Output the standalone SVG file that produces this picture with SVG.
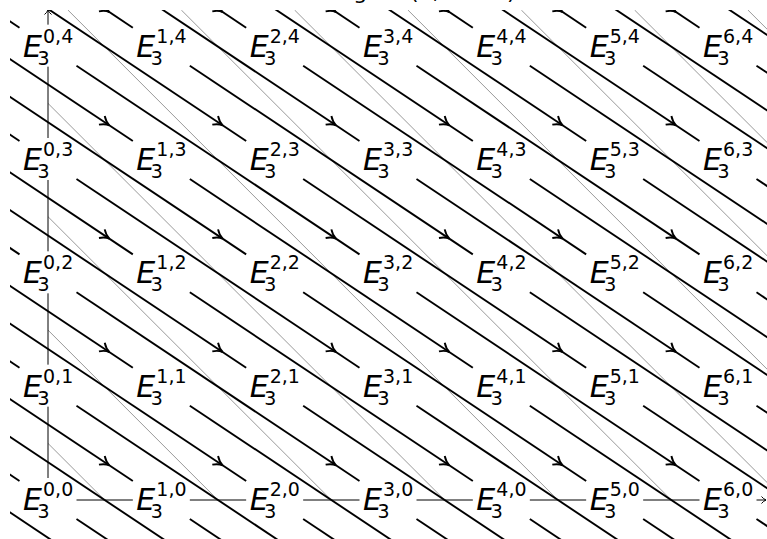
<svg xmlns="http://www.w3.org/2000/svg" width="767" height="539" viewBox="0 0 767 539">
<style>
text{font-family:"DejaVu Sans","Noto Sans",sans-serif;fill:#000}
.E{font-size:30px;font-style:italic}
.s{font-size:19px}
.title{font-size:22px}
.arrow path{stroke:#000;stroke-width:1.9;fill:none}
.grid line{stroke:#999;stroke-width:1}
.axis{stroke:#000;stroke-width:1;fill:none}
</style>
<defs>
<clipPath id="clipAll"><rect x="10" y="10" width="800" height="600"/></clipPath>
<clipPath id="clipQ"><rect x="48" y="10" width="760" height="490"/></clipPath>
<g id="d3" class="arrow">
<path d="M28.5 19L311.5 207.67"/>
<path d="M-9 -5.2C-5.5 -1.8 -2.6 -0.5 0 0C-2.6 0.5 -5.5 1.8 -9 5.2" transform="translate(288 192) rotate(33.69)"/>
</g>
</defs>
<text class="title" x="137" y="-1.5">Differentials of bidegree (3, 1 − 3)</text>
<g id="gridlines" class="grid" clip-path="url(#clipQ)">
<line x1="-385.4" y1="10" x2="104.6" y2="500"/>
<line x1="-272.1" y1="10" x2="217.9" y2="500"/>
<line x1="-158.7" y1="10" x2="331.3" y2="500"/>
<line x1="-45.4" y1="10" x2="444.6" y2="500"/>
<line x1="67.9" y1="10" x2="557.9" y2="500"/>
<line x1="181.3" y1="10" x2="671.3" y2="500"/>
<line x1="294.6" y1="10" x2="784.6" y2="500"/>
<line x1="407.9" y1="10" x2="897.9" y2="500"/>
<line x1="521.3" y1="10" x2="1011.3" y2="500"/>
<line x1="634.6" y1="10" x2="1124.6" y2="500"/>
<line x1="747.9" y1="10" x2="1237.9" y2="500"/>
</g>
<g id="axes" class="axis">
<path d="M48 478V406.67M48 364.67V293.33M48 251.33V180M48 138V66.67M48 24.67V10"/>
<path d="M44.5 14.5Q47 12.5 48 10Q49 12.5 51.5 14.5"/>
<path d="M76.5 500H132.83M189.83 500H246.17M303.17 500H359.5M416.5 500H472.83M529.83 500H586.17M643.17 500H699.5M756.5 500H766"/>
<path d="M761.5 496.5Q763.5 499 766 500Q763.5 501 761.5 503.5"/>
</g>
<g id="connectors" clip-path="url(#clipAll)">
<use href="#d3" x="-292" y="273.33"/><use href="#d3" x="-292" y="160"/><use href="#d3" x="-292" y="46.67"/><use href="#d3" x="-292" y="-66.67"/><use href="#d3" x="-292" y="-180"/>
<use href="#d3" x="-178.67" y="500"/><use href="#d3" x="-178.67" y="386.67"/><use href="#d3" x="-178.67" y="273.33"/><use href="#d3" x="-178.67" y="160"/><use href="#d3" x="-178.67" y="46.67"/><use href="#d3" x="-178.67" y="-66.67"/><use href="#d3" x="-178.67" y="-180"/>
<use href="#d3" x="-65.33" y="500"/><use href="#d3" x="-65.33" y="386.67"/><use href="#d3" x="-65.33" y="273.33"/><use href="#d3" x="-65.33" y="160"/><use href="#d3" x="-65.33" y="46.67"/><use href="#d3" x="-65.33" y="-66.67"/><use href="#d3" x="-65.33" y="-180"/>
<use href="#d3" x="48" y="500"/><use href="#d3" x="48" y="386.67"/><use href="#d3" x="48" y="273.33"/><use href="#d3" x="48" y="160"/><use href="#d3" x="48" y="46.67"/><use href="#d3" x="48" y="-66.67"/><use href="#d3" x="48" y="-180"/>
<use href="#d3" x="161.33" y="500"/><use href="#d3" x="161.33" y="386.67"/><use href="#d3" x="161.33" y="273.33"/><use href="#d3" x="161.33" y="160"/><use href="#d3" x="161.33" y="46.67"/><use href="#d3" x="161.33" y="-66.67"/><use href="#d3" x="161.33" y="-180"/>
<use href="#d3" x="274.67" y="500"/><use href="#d3" x="274.67" y="386.67"/><use href="#d3" x="274.67" y="273.33"/><use href="#d3" x="274.67" y="160"/><use href="#d3" x="274.67" y="46.67"/><use href="#d3" x="274.67" y="-66.67"/><use href="#d3" x="274.67" y="-180"/>
<use href="#d3" x="388" y="500"/><use href="#d3" x="388" y="386.67"/><use href="#d3" x="388" y="273.33"/><use href="#d3" x="388" y="160"/><use href="#d3" x="388" y="46.67"/><use href="#d3" x="388" y="-66.67"/><use href="#d3" x="388" y="-180"/>
<use href="#d3" x="501.33" y="500"/><use href="#d3" x="501.33" y="386.67"/><use href="#d3" x="501.33" y="273.33"/><use href="#d3" x="501.33" y="160"/><use href="#d3" x="501.33" y="46.67"/><use href="#d3" x="501.33" y="-66.67"/><use href="#d3" x="501.33" y="-180"/>
<use href="#d3" x="614.67" y="500"/><use href="#d3" x="614.67" y="386.67"/><use href="#d3" x="614.67" y="273.33"/><use href="#d3" x="614.67" y="160"/><use href="#d3" x="614.67" y="46.67"/><use href="#d3" x="614.67" y="-66.67"/><use href="#d3" x="614.67" y="-180"/>
<use href="#d3" x="728" y="500"/><use href="#d3" x="728" y="386.67"/><use href="#d3" x="728" y="273.33"/><use href="#d3" x="728" y="160"/><use href="#d3" x="728" y="46.67"/>
</g>
<g id="nodes">
<g id="n0-4" transform="translate(48 46.67)"><text class="E" x="-25" y="10">E</text><text class="s" x="-10.5" y="18">3</text><text class="s" x="-5" y="-4">0,4</text></g>
<g id="n1-4" transform="translate(161.33 46.67)"><text class="E" x="-25" y="10">E</text><text class="s" x="-10.5" y="18">3</text><text class="s" x="-5" y="-4">1,4</text></g>
<g id="n2-4" transform="translate(274.67 46.67)"><text class="E" x="-25" y="10">E</text><text class="s" x="-10.5" y="18">3</text><text class="s" x="-5" y="-4">2,4</text></g>
<g id="n3-4" transform="translate(388 46.67)"><text class="E" x="-25" y="10">E</text><text class="s" x="-10.5" y="18">3</text><text class="s" x="-5" y="-4">3,4</text></g>
<g id="n4-4" transform="translate(501.33 46.67)"><text class="E" x="-25" y="10">E</text><text class="s" x="-10.5" y="18">3</text><text class="s" x="-5" y="-4">4,4</text></g>
<g id="n5-4" transform="translate(614.67 46.67)"><text class="E" x="-25" y="10">E</text><text class="s" x="-10.5" y="18">3</text><text class="s" x="-5" y="-4">5,4</text></g>
<g id="n6-4" transform="translate(728 46.67)"><text class="E" x="-25" y="10">E</text><text class="s" x="-10.5" y="18">3</text><text class="s" x="-5" y="-4">6,4</text></g>
<g id="n0-3" transform="translate(48 160)"><text class="E" x="-25" y="10">E</text><text class="s" x="-10.5" y="18">3</text><text class="s" x="-5" y="-4">0,3</text></g>
<g id="n1-3" transform="translate(161.33 160)"><text class="E" x="-25" y="10">E</text><text class="s" x="-10.5" y="18">3</text><text class="s" x="-5" y="-4">1,3</text></g>
<g id="n2-3" transform="translate(274.67 160)"><text class="E" x="-25" y="10">E</text><text class="s" x="-10.5" y="18">3</text><text class="s" x="-5" y="-4">2,3</text></g>
<g id="n3-3" transform="translate(388 160)"><text class="E" x="-25" y="10">E</text><text class="s" x="-10.5" y="18">3</text><text class="s" x="-5" y="-4">3,3</text></g>
<g id="n4-3" transform="translate(501.33 160)"><text class="E" x="-25" y="10">E</text><text class="s" x="-10.5" y="18">3</text><text class="s" x="-5" y="-4">4,3</text></g>
<g id="n5-3" transform="translate(614.67 160)"><text class="E" x="-25" y="10">E</text><text class="s" x="-10.5" y="18">3</text><text class="s" x="-5" y="-4">5,3</text></g>
<g id="n6-3" transform="translate(728 160)"><text class="E" x="-25" y="10">E</text><text class="s" x="-10.5" y="18">3</text><text class="s" x="-5" y="-4">6,3</text></g>
<g id="n0-2" transform="translate(48 273.33)"><text class="E" x="-25" y="10">E</text><text class="s" x="-10.5" y="18">3</text><text class="s" x="-5" y="-4">0,2</text></g>
<g id="n1-2" transform="translate(161.33 273.33)"><text class="E" x="-25" y="10">E</text><text class="s" x="-10.5" y="18">3</text><text class="s" x="-5" y="-4">1,2</text></g>
<g id="n2-2" transform="translate(274.67 273.33)"><text class="E" x="-25" y="10">E</text><text class="s" x="-10.5" y="18">3</text><text class="s" x="-5" y="-4">2,2</text></g>
<g id="n3-2" transform="translate(388 273.33)"><text class="E" x="-25" y="10">E</text><text class="s" x="-10.5" y="18">3</text><text class="s" x="-5" y="-4">3,2</text></g>
<g id="n4-2" transform="translate(501.33 273.33)"><text class="E" x="-25" y="10">E</text><text class="s" x="-10.5" y="18">3</text><text class="s" x="-5" y="-4">4,2</text></g>
<g id="n5-2" transform="translate(614.67 273.33)"><text class="E" x="-25" y="10">E</text><text class="s" x="-10.5" y="18">3</text><text class="s" x="-5" y="-4">5,2</text></g>
<g id="n6-2" transform="translate(728 273.33)"><text class="E" x="-25" y="10">E</text><text class="s" x="-10.5" y="18">3</text><text class="s" x="-5" y="-4">6,2</text></g>
<g id="n0-1" transform="translate(48 386.67)"><text class="E" x="-25" y="10">E</text><text class="s" x="-10.5" y="18">3</text><text class="s" x="-5" y="-4">0,1</text></g>
<g id="n1-1" transform="translate(161.33 386.67)"><text class="E" x="-25" y="10">E</text><text class="s" x="-10.5" y="18">3</text><text class="s" x="-5" y="-4">1,1</text></g>
<g id="n2-1" transform="translate(274.67 386.67)"><text class="E" x="-25" y="10">E</text><text class="s" x="-10.5" y="18">3</text><text class="s" x="-5" y="-4">2,1</text></g>
<g id="n3-1" transform="translate(388 386.67)"><text class="E" x="-25" y="10">E</text><text class="s" x="-10.5" y="18">3</text><text class="s" x="-5" y="-4">3,1</text></g>
<g id="n4-1" transform="translate(501.33 386.67)"><text class="E" x="-25" y="10">E</text><text class="s" x="-10.5" y="18">3</text><text class="s" x="-5" y="-4">4,1</text></g>
<g id="n5-1" transform="translate(614.67 386.67)"><text class="E" x="-25" y="10">E</text><text class="s" x="-10.5" y="18">3</text><text class="s" x="-5" y="-4">5,1</text></g>
<g id="n6-1" transform="translate(728 386.67)"><text class="E" x="-25" y="10">E</text><text class="s" x="-10.5" y="18">3</text><text class="s" x="-5" y="-4">6,1</text></g>
<g id="n0-0" transform="translate(48 500)"><text class="E" x="-25" y="10">E</text><text class="s" x="-10.5" y="18">3</text><text class="s" x="-5" y="-4">0,0</text></g>
<g id="n1-0" transform="translate(161.33 500)"><text class="E" x="-25" y="10">E</text><text class="s" x="-10.5" y="18">3</text><text class="s" x="-5" y="-4">1,0</text></g>
<g id="n2-0" transform="translate(274.67 500)"><text class="E" x="-25" y="10">E</text><text class="s" x="-10.5" y="18">3</text><text class="s" x="-5" y="-4">2,0</text></g>
<g id="n3-0" transform="translate(388 500)"><text class="E" x="-25" y="10">E</text><text class="s" x="-10.5" y="18">3</text><text class="s" x="-5" y="-4">3,0</text></g>
<g id="n4-0" transform="translate(501.33 500)"><text class="E" x="-25" y="10">E</text><text class="s" x="-10.5" y="18">3</text><text class="s" x="-5" y="-4">4,0</text></g>
<g id="n5-0" transform="translate(614.67 500)"><text class="E" x="-25" y="10">E</text><text class="s" x="-10.5" y="18">3</text><text class="s" x="-5" y="-4">5,0</text></g>
<g id="n6-0" transform="translate(728 500)"><text class="E" x="-25" y="10">E</text><text class="s" x="-10.5" y="18">3</text><text class="s" x="-5" y="-4">6,0</text></g>
</g>
</svg>
